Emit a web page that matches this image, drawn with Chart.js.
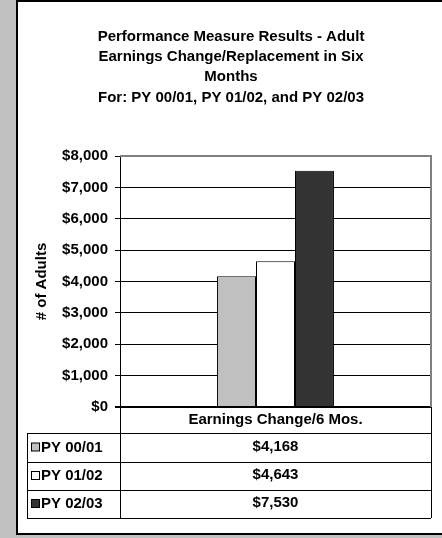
<!DOCTYPE html>
<html>
<head>
<meta charset="utf-8">
<script src="https://cdn.jsdelivr.net/npm/chart.js@4.4.1/dist/chart.umd.min.js"></script>
<style>
  html, body { margin: 0; padding: 0; background: #c0c0c0; overflow: hidden; }
  canvas { display: block; }
</style>
</head>
<body>
<canvas id="earningsChart" width="442" height="538"></canvas>
<script>
const titleLines = [
    'Performance Measure Results - Adult',
    'Earnings Change/Replacement in Six',
    'Months',
    'For: PY 00/01, PY 01/02, and PY 02/03'
];
const categories = ['Earnings Change/6 Mos.'];
const seriesNames = ['PY 00/01', 'PY 01/02', 'PY 02/03'];
const seriesValues = [[4168], [4643], [7530]];
const seriesColors = ['#c0c0c0', '#ffffff', '#333333'];
const yMin = 0;
const yMax = 8000;
const yStep = 1000;
const yAxisTitle = '# of Adults';

const FONT = '"Liberation Sans", Arial, sans-serif';

function money(v) {
    return '$' + v.toLocaleString('en-US');
}

// frame, title and the data table under the plot
const framePlugin = {
    id: 'frame',
    beforeDraw(chart) {
        const ctx = chart.ctx;
        ctx.save();
        ctx.fillStyle = '#c0c0c0';
        ctx.fillRect(0, 0, chart.width, chart.height);
        ctx.fillStyle = '#ffffff';
        ctx.fillRect(17, 1, 500, 533);
        ctx.strokeStyle = '#000';
        ctx.lineWidth = 2;
        ctx.strokeRect(17, 1, 500, 533);

        ctx.fillStyle = '#000';
        ctx.font = 'bold 15px ' + FONT;
        ctx.textAlign = 'center';
        ctx.textBaseline = 'middle';
        const ys = [37, 57, 77, 98];
        titleLines.forEach((t, i) => ctx.fillText(t, 231, ys[i]));
        ctx.restore();
    },
    afterDraw(chart) {
        const ctx = chart.ctx;
        const area = chart.chartArea;
        ctx.save();

        // plot area border (gray)
        ctx.strokeStyle = '#808080';
        ctx.lineWidth = 2;
        ctx.beginPath();
        ctx.moveTo(area.left, area.top);
        ctx.lineTo(area.right, area.top);
        ctx.lineTo(area.right, area.bottom);
        ctx.stroke();

        // table
        const tLeft = 27, tMid = area.left, tRight = area.right;
        const rows = [area.bottom, 433, 462, 490, 518];
        ctx.strokeStyle = '#000';
        ctx.lineWidth = 1;
        ctx.beginPath();
        for (let i = 1; i < rows.length; i++) {
            ctx.moveTo(tLeft, rows[i] + 0.5);
            ctx.lineTo(tRight, rows[i] + 0.5);
        }
        ctx.moveTo(tLeft + 0.5, rows[1]);
        ctx.lineTo(tLeft + 0.5, rows[4]);
        ctx.moveTo(tMid + 0.5, rows[0]);
        ctx.lineTo(tMid + 0.5, rows[4]);
        ctx.moveTo(tRight + 0.5, rows[0]);
        ctx.lineTo(tRight + 0.5, rows[4]);
        ctx.stroke();

        const cx = (tMid + tRight) / 2;
        ctx.fillStyle = '#000';
        ctx.font = 'bold 15px ' + FONT;
        ctx.textBaseline = 'middle';
        ctx.textAlign = 'center';
        ctx.fillText(categories[0], cx, (rows[0] + rows[1]) / 2);

        seriesNames.forEach((name, i) => {
            const y = (rows[i + 1] + rows[i + 2]) / 2;
            ctx.textAlign = 'center';
            ctx.fillStyle = '#000';
            ctx.fillText(money(seriesValues[i][0]), cx, y - 1);
            ctx.fillStyle = seriesColors[i];
            ctx.fillRect(31.5, y - 4.5, 8, 8);
            ctx.strokeStyle = '#000';
            ctx.strokeRect(31.5, y - 4.5, 8, 8);
            ctx.fillStyle = '#000';
            ctx.textAlign = 'left';
            ctx.fillText(name, 41, y);
        });
        ctx.restore();
    }
};

new Chart(document.getElementById('earningsChart'), {
    type: 'bar',
    data: {
        labels: categories,
        datasets: seriesNames.map((name, i) => ({
            label: name,
            data: seriesValues[i],
            backgroundColor: seriesColors[i],
            borderColor: '#000',
            borderWidth: 1,
            barPercentage: 1,
            categoryPercentage: 0.376
        }))
    },
    options: {
        responsive: false,
        devicePixelRatio: 1,
        animation: false,
        layout: { padding: { top: 156, right: 11, bottom: 131, left: 0 } },
        plugins: {
            legend: { display: false },
            tooltip: { enabled: false }
        },
        scales: {
            x: { display: false },
            y: {
                min: yMin,
                max: yMax,
                afterFit(scale) { scale.width = 120; },
                ticks: {
                    stepSize: yStep,
                    padding: 7,
                    color: '#000',
                    font: { family: FONT, size: 15, weight: 'bold' },
                    callback: v => money(v)
                },
                grid: {
                    color: c => c.tick && c.tick.value === yMax ? 'rgba(0,0,0,0)' : '#000',
                    lineWidth: c => c.tick && c.tick.value === 0 ? 2 : 1,
                    tickColor: '#000',
                    tickLength: 5
                },
                border: { color: '#000', width: 1 },
                title: {
                    display: true,
                    text: yAxisTitle,
                    color: '#000',
                    font: { family: FONT, size: 15, weight: 'bold' },
                    padding: { top: 33, bottom: 0 }
                }
            }
        }
    },
    plugins: [framePlugin]
});
</script>
</body>
</html>
